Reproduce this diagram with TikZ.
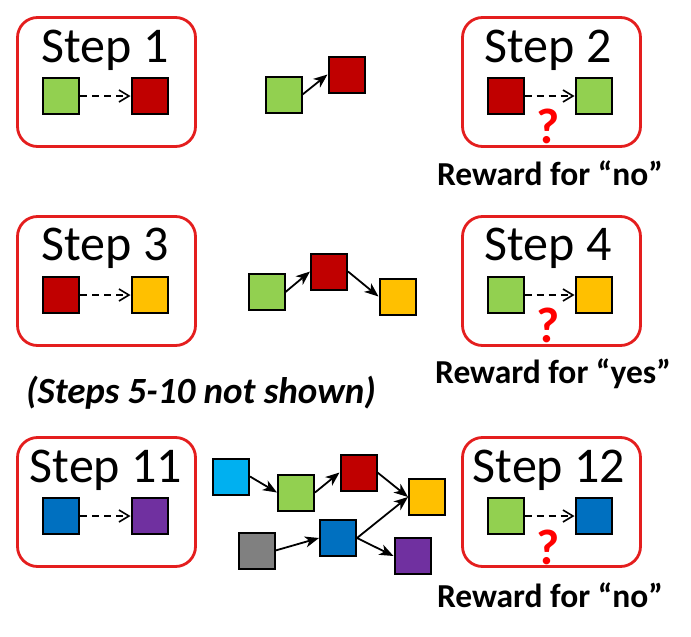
\documentclass[tikz,border=0pt]{standalone}
\usepackage{fontspec}
\setmainfont{Carlito}
\usepackage{tikz}
\usetikzlibrary{positioning, arrows.meta}

\definecolor{cgreen}{HTML}{92D050}
\definecolor{cred}{HTML}{C00000}
\definecolor{cyellow}{HTML}{FFC000}
\definecolor{ccyan}{HTML}{00B0F0}
\definecolor{cblue}{HTML}{0070C0}
\definecolor{cpurple}{HTML}{7030A0}
\definecolor{cgray}{HTML}{808080}
\definecolor{boxred}{HTML}{E41E1E}

\begin{document}
\begin{tikzpicture}[
  x=1pt, y=-1pt,
  stepbox/.style={rectangle, rounded corners=20pt, draw=boxred, line width=2.8pt,
                  minimum width=178pt, minimum height=129pt, inner sep=0pt},
  steptext/.style={anchor=base, inner sep=0pt, font=\fontsize{50}{54}\selectfont},
  sq/.style={rectangle, draw=black, line width=2pt, minimum size=36pt, inner sep=0pt},
  reward/.style={anchor=base, inner sep=0pt, font=\fontsize{33.5}{36}\selectfont\bfseries},
  query/.style={inner sep=0pt, text=red, font=\fontsize{50}{52}\selectfont\bfseries},
  guess/.style={dash pattern=on 7pt off 5pt, line width=1.6pt,
                -{Straight Barb[length=10pt, width=12pt, line width=1.6pt]}},
  link/.style={line width=1.8pt, -{Stealth[length=14pt, width=11pt, inset=4pt]}}
]
\useasboundingbox (0,0) rectangle (691,637);

% Row 1
\node[stepbox] (b1) at (106.5,82) {};
\node[steptext] (t1) at (105,62) {Step 1};
\node[sq, fill=cgreen] (b1a) at (61,96) {};
\node[sq, fill=cred] (b1b) at (149.5,96) {};
\draw[guess] (b1a) -- (b1b);

\node[sq, fill=cgreen] (g1a) at (283.5,94.5) {};
\node[sq, fill=cred] (g1b) at (346.5,74.5) {};
\draw[link] (g1a.east) -- (g1b.west);

\node[stepbox] (b2) at (551.5,82) {};
\node[steptext] (t2) at (548,62) {Step 2};
\node[sq, fill=cred] (b2a) at (505.5,96) {};
\node[sq, fill=cgreen] (b2b) at (593.5,96) {};
\draw[guess] (b2a) -- (b2b);
\node[query] (q2) at (548,126) {?};
\node[reward] (r2) at (550,185) {Reward for “no”};

% Row 2
\node[stepbox] (b3) at (106.5,281) {};
\node[steptext] (t3) at (105,260) {Step 3};
\node[sq, fill=cred] (b3a) at (61,295) {};
\node[sq, fill=cyellow] (b3b) at (149.5,295) {};
\draw[guess] (b3a) -- (b3b);

\node[sq, fill=cgreen] (g2a) at (266.5,292) {};
\node[sq, fill=cred] (g2b) at (329,271.5) {};
\node[sq, fill=cyellow] (g2c) at (397.5,296.5) {};
\draw[link] (g2a.east) -- (g2b.west);
\draw[link] (g2b.east) -- (g2c.west);

\node[stepbox] (b4) at (551.5,281) {};
\node[steptext] (t4) at (548,260) {Step 4};
\node[sq, fill=cgreen] (b4a) at (505.5,295) {};
\node[sq, fill=cyellow] (b4b) at (593.5,295) {};
\draw[guess] (b4a) -- (b4b);
\node[query] (q4) at (548,325) {?};
\node[reward] (r4) at (553,383) {Reward for “yes”};

\node[anchor=base, inner sep=0pt, font=\fontsize{37}{40}\selectfont\bfseries\itshape] (skip) at (201,403) {(Steps 5-10 not shown)};

% Row 3
\node[stepbox] (b11) at (106.5,502) {};
\node[steptext] (t11) at (106,482) {Step 11};
\node[sq, fill=cblue] (b11a) at (61,516) {};
\node[sq, fill=cpurple] (b11b) at (149.5,516) {};
\draw[guess] (b11a) -- (b11b);

\node[sq, fill=ccyan] (g3a) at (231,476.5) {};
\node[sq, fill=cgreen] (g3b) at (296,492.5) {};
\node[sq, fill=cred] (g3c) at (358.5,472.5) {};
\node[sq, fill=cyellow] (g3d) at (427,497) {};
\node[sq, fill=cgray] (g3e) at (256.5,550.5) {};
\node[sq, fill=cblue] (g3f) at (338,538) {};
\node[sq, fill=cpurple] (g3g) at (412.5,556) {};
\draw[link] (g3a.east) -- (g3b.west);
\draw[link] (g3b.east) -- (g3c.west);
\draw[link] (g3c.east) -- (g3d.west);
\draw[link] (g3e.east) -- (g3f.west);
\draw[link] (g3f.east) -- (g3d.west);
\draw[link] (g3f.east) -- (g3g.west);

\node[stepbox] (b12) at (551.5,502) {};
\node[steptext] (t12) at (549,482) {Step 12};
\node[sq, fill=cgreen] (b12a) at (505.5,516) {};
\node[sq, fill=cblue] (b12b) at (593.5,516) {};
\draw[guess] (b12a) -- (b12b);
\node[query] (q12) at (548,547) {?};
\node[reward] (r12) at (550,607) {Reward for “no”};

\end{tikzpicture}
\end{document}
